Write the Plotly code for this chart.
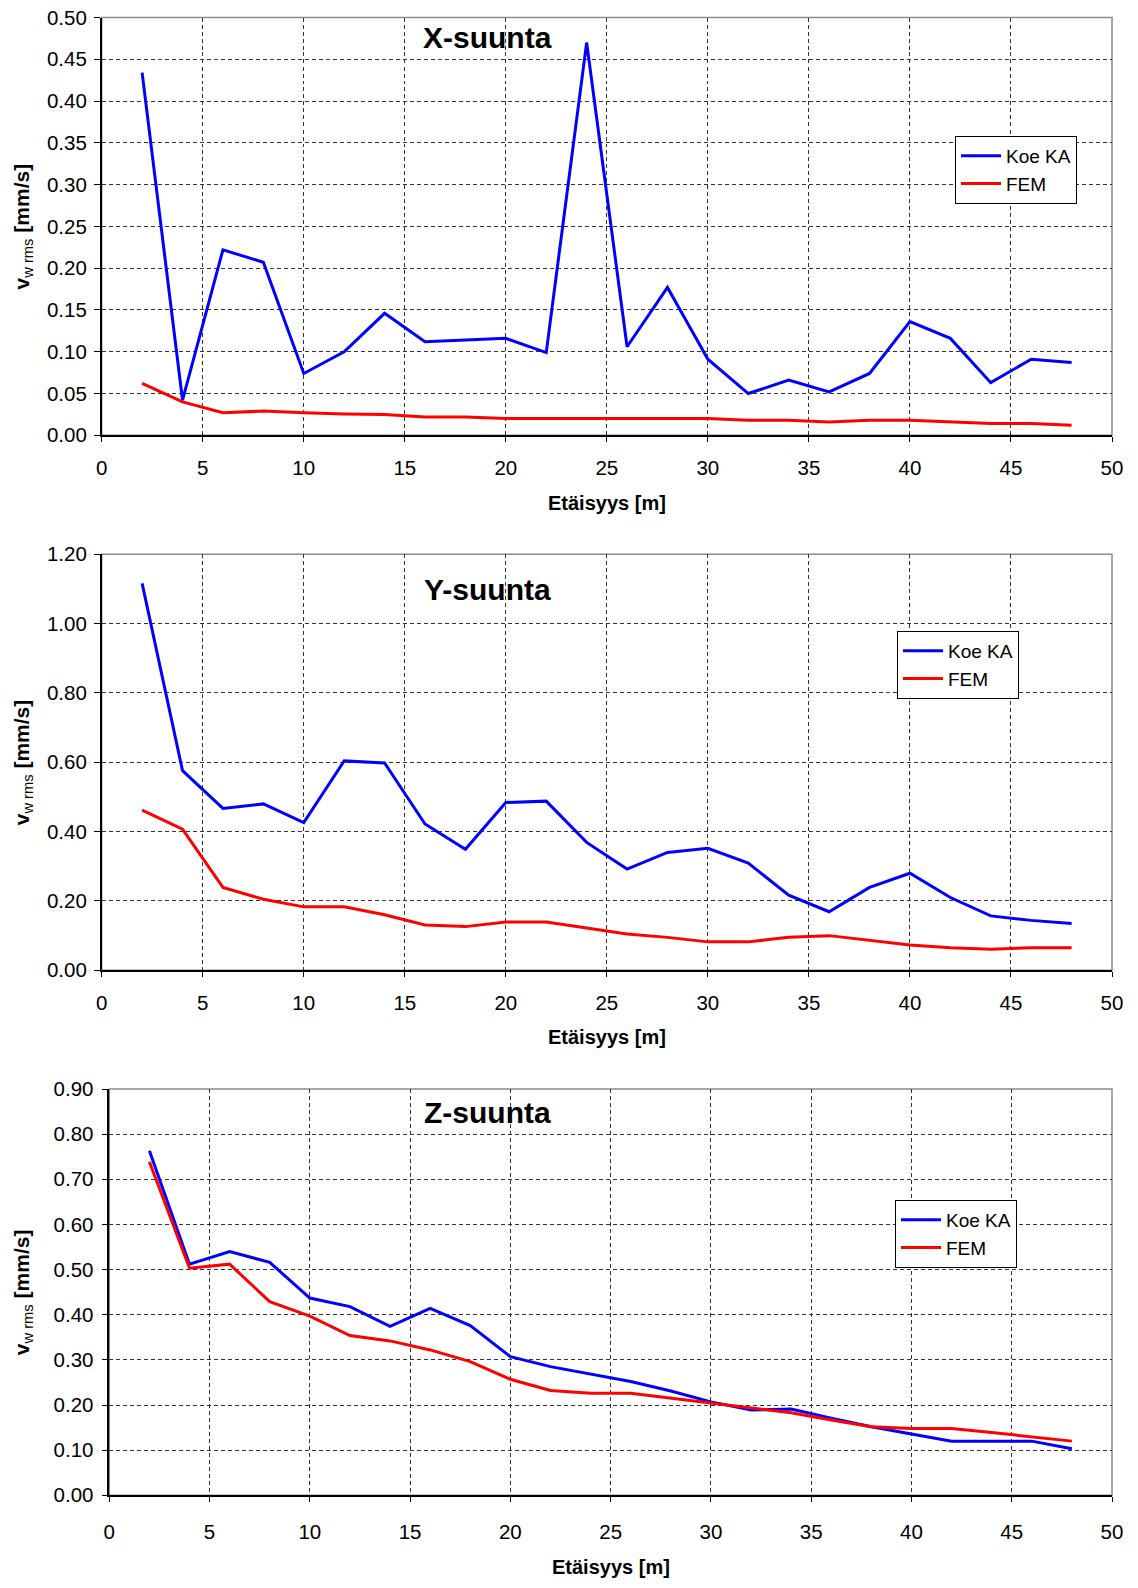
import plotly.graph_objects as go

W, H = 1138, 1588

# ---------------- data ----------------
distance = [2, 4, 6, 8, 10, 12, 14, 16, 18, 20, 22, 24, 26, 28, 30, 32, 34, 36, 38, 40, 42, 44, 46, 48]

x_koe = [0.434, 0.042, 0.222, 0.207, 0.074, 0.100, 0.146, 0.112, 0.114, 0.116, 0.099, 0.470,
         0.106, 0.177, 0.091, 0.050, 0.066, 0.052, 0.074, 0.136, 0.116, 0.063, 0.091, 0.087]
x_fem = [0.062, 0.040, 0.027, 0.029, 0.027, 0.0255, 0.025, 0.022, 0.022, 0.020, 0.020, 0.020,
         0.020, 0.020, 0.020, 0.018, 0.018, 0.016, 0.018, 0.018, 0.016, 0.014, 0.014, 0.012]

y_koe = [1.116, 0.576, 0.467, 0.480, 0.426, 0.604, 0.598, 0.422, 0.349, 0.484, 0.488, 0.369,
         0.292, 0.340, 0.352, 0.309, 0.217, 0.169, 0.239, 0.280, 0.210, 0.157, 0.144, 0.135]
y_fem = [0.462, 0.407, 0.239, 0.205, 0.183, 0.183, 0.160, 0.131, 0.126, 0.139, 0.139, 0.121,
         0.105, 0.095, 0.082, 0.082, 0.095, 0.100, 0.086, 0.073, 0.065, 0.061, 0.065, 0.065]

z_koe = [0.763, 0.512, 0.540, 0.516, 0.437, 0.418, 0.374, 0.414, 0.376, 0.307, 0.285, 0.268,
         0.252, 0.231, 0.207, 0.189, 0.191, 0.171, 0.152, 0.136, 0.120, 0.120, 0.120, 0.103]
z_fem = [0.739, 0.503, 0.512, 0.429, 0.397, 0.354, 0.342, 0.322, 0.296, 0.257, 0.232, 0.226,
         0.226, 0.215, 0.204, 0.193, 0.183, 0.167, 0.152, 0.148, 0.148, 0.139, 0.130, 0.120]

panel_titles = ["X-suunta", "Y-suunta", "Z-suunta"]
series_names = ["Koe KA", "FEM"]
x_title = "Etäisyys [m]"
y_title = "<b>v</b><sub>w rms</sub><b> [mm/s]</b>"
y_ranges = [[0, 0.5], [0, 1.2], [0, 0.9]]
y_dticks = [0.05, 0.2, 0.1]

# ---------------- layout helpers (pixels -> paper) ----------------
def px(xp):
    return xp / W

def py(yp):
    return 1 - yp / H

# plot-area pixel boxes: (left, right, top, bottom)
boxes = [(101.7, 1112, 17.5, 435.3), (101.7, 1112, 554.3, 970.3), (109.3, 1112, 1089, 1495.3)]
legend_pos = [(955, 136), (897, 631), (895, 1200)]
title_pos = [(487, 37), (487, 589), (487, 1112)]
xtitle_y = [503, 1037, 1567]
x_standoff = [8, 8, 12]
y_standoff = [3, 3, 4]

FONT = "Liberation Sans, Arial, sans-serif"
BLUE = "#0000FF"
RED = "#FF0000"

fig = go.Figure()
data_sets = [(x_koe, x_fem), (y_koe, y_fem), (z_koe, z_fem)]

annotations = []
shapes = []
for i, (koe, fem) in enumerate(data_sets):
    n = "" if i == 0 else str(i + 1)
    leg = "legend" if i == 0 else f"legend{i + 1}"
    fig.add_trace(go.Scatter(x=distance, y=koe, mode="lines", name=series_names[0],
                             line=dict(color=BLUE, width=3), xaxis="x" + n, yaxis="y" + n,
                             legend=leg))
    fig.add_trace(go.Scatter(x=distance, y=fem, mode="lines", name=series_names[1],
                             line=dict(color=RED, width=3), xaxis="x" + n, yaxis="y" + n,
                             legend=leg))
    l, r, t, b = boxes[i]
    common = dict(showgrid=True, gridcolor="#333333", griddash="4px,3px", gridwidth=1,
                  zeroline=False, showline=True, linecolor="#000000", linewidth=1.5,
                  ticks="outside", tickcolor="#000000", automargin=False,
                  tickfont=dict(family=FONT, size=20.5, color="#000000"))
    fig.update_layout(**{
        "xaxis" + n: dict(domain=[px(l), px(r)], range=[0, 50], dtick=5, tick0=0,
                          anchor="y" + n, ticklen=5, ticklabelstandoff=x_standoff[i], **common),
        "yaxis" + n: dict(domain=[py(b), py(t)], range=y_ranges[i], dtick=y_dticks[i], tick0=0,
                          tickformat=".2f", anchor="x" + n, ticklen=6,
                          ticklabelstandoff=y_standoff[i], **common),
    })
    # gray plot frame (top / right)
    shapes.append(dict(type="rect", xref="paper", yref="paper",
                       x0=px(l), x1=px(r), y0=py(b), y1=py(t),
                       line=dict(color="#8c8c8c", width=1.5), layer="below"))
    # panel title
    annotations.append(dict(text=f"<b>{panel_titles[i]}</b>", x=px(title_pos[i][0]),
                            y=py(title_pos[i][1]), xref="paper", yref="paper",
                            showarrow=False, xanchor="center", yanchor="middle",
                            font=dict(family=FONT, size=30, color="#000000")))
    # x axis title
    annotations.append(dict(text=f"<b>{x_title}</b>", x=px((l + r) / 2), y=py(xtitle_y[i]),
                            xref="paper", yref="paper", showarrow=False,
                            xanchor="center", yanchor="middle",
                            font=dict(family=FONT, size=20, color="#000000")))
    # y axis title
    annotations.append(dict(text=y_title, x=px(23), y=py((t + b) / 2), xref="paper",
                            yref="paper", showarrow=False, textangle=-90,
                            xanchor="center", yanchor="middle",
                            font=dict(family=FONT, size=21, color="#000000")))
    lx, ly = legend_pos[i]
    fig.update_layout(**{leg: dict(x=px(lx), y=py(ly), xanchor="left", yanchor="top",
                                   xref="paper", yref="paper",
                                   bgcolor="#FFFFFF", bordercolor="#000000", borderwidth=1,
                                   itemwidth=40, tracegroupgap=0,
                                   font=dict(family=FONT, size=19, color="#000000"))})

fig.update_layout(width=W, height=H, margin=dict(l=0, r=0, t=0, b=0),
                  template="none", paper_bgcolor="#FFFFFF", plot_bgcolor="#FFFFFF",
                  showlegend=True, annotations=annotations, shapes=shapes,
                  font=dict(family=FONT, color="#000000"))

fig.write_html("out.html")
